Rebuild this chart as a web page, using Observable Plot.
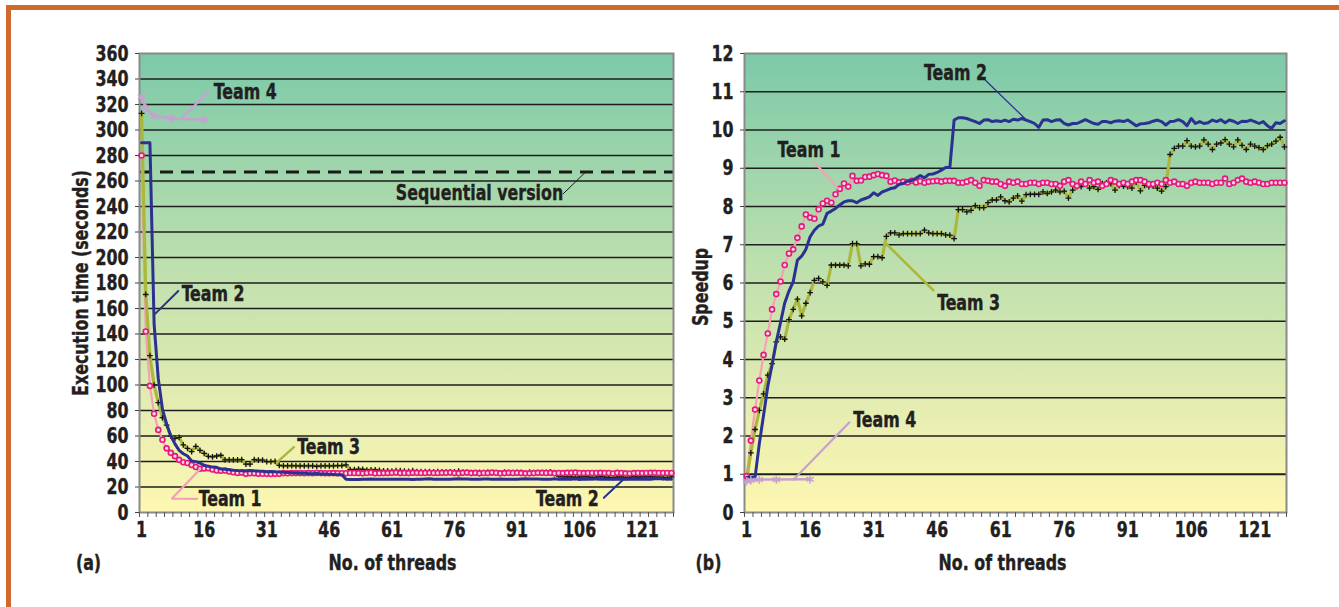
<!DOCTYPE html>
<html><head><meta charset="utf-8">
<script src="https://cdn.jsdelivr.net/npm/d3@7"></script>
<script src="https://cdn.jsdelivr.net/npm/@observablehq/plot@0.6"></script>
<style>
html,body{margin:0;padding:0;background:#fff;}
#wrap{position:relative;width:1339px;height:607px;overflow:hidden;background:#fff;}
#frameTop{position:absolute;left:6px;top:5px;width:1333px;height:5px;background:#d0692e;}
#frameLeft{position:absolute;left:6px;top:5px;width:5px;height:602px;background:#d0692e;}
#pa{position:absolute;left:0;top:0;}
#pb{position:absolute;left:690px;top:0;}
#wrap svg text{stroke:#231f20;stroke-width:0.4px;}
</style></head><body>
<div id="wrap"><div id="frameTop"></div><div id="frameLeft"></div><div id="pa"></div><div id="pb"></div></div>
<script>
// ---------- data ----------
const threads = Array.from({length: 128}, (_, k) => k + 1);
const xTickLabels = [1, 16, 31, 46, 61, 76, 91, 106, 121];
const timeTicks = [0,20,40,60,80,100,120,140,160,180,200,220,240,260,280,300,320,340,360];
const speedupTicks = [0,1,2,3,4,5,6,7,8,9,10,11,12];
const sequentialTime = 267;
const team4Threads = [1, 2, 4, 8, 16];
const team4Time = [326, 317, 311, 309, 308];
const team4Speedup = [0.82, 0.84, 0.86, 0.86, 0.87];

const timeTeam1 = [
280,142,99.3,77.4,64.8,57.1,50.3,46.8,44.2,41.3,
39.4,38.8,37.2,35.7,34.3,34.6,34.8,33.7,33.0,32.8,
33.0,32.1,31.6,31.0,31.3,30.3,30.8,30.8,30.4,30.4,
30.3,30.2,30.3,30.3,30.9,30.8,30.9,30.9,30.9,30.8,
30.9,30.8,31.0,30.9,30.8,30.8,30.9,30.8,30.8,30.8,
31.0,31.0,30.9,30.7,31.0,31.3,30.7,30.8,30.9,30.9,
31.1,31.3,30.9,31.0,30.9,31.1,31.1,31.0,31.0,31.1,
31.0,31.0,31.1,31.1,31.3,30.9,30.7,31.1,31.3,30.9,
31.1,30.7,31.0,30.9,31.3,31.1,30.7,30.9,31.1,31.0,
31.1,30.9,30.7,30.7,30.9,31.1,31.1,31.0,31.1,30.7,
31.0,30.9,31.1,31.1,31.3,31.0,30.9,31.0,31.0,31.0,
31.1,31.0,31.0,30.6,31.1,31.0,30.7,30.6,30.9,31.0,
30.9,31.0,31.1,31.1,31.0,31.0,31.0,31.0];
const timeTeam2 = [
290,290,290,148,105,81.0,69.4,59.9,53.8,48.7,
46.1,44.3,40.5,39.9,38.8,37.0,36.2,35.6,35.4,34.1,
33.9,33.6,33.2,32.9,32.8,32.8,33.0,32.7,32.5,32.4,
31.9,32.2,31.9,31.7,31.5,31.4,31.1,31.0,30.8,30.8,
30.5,30.3,30.5,30.2,30.2,30.0,29.8,29.6,29.6,26.0,
25.9,25.9,25.9,26.0,26.1,26.3,26.0,26.0,26.1,26.1,
26.1,26.0,26.1,26.0,26.0,25.9,26.0,26.1,26.3,26.5,
26.0,26.0,26.1,26.0,26.0,26.3,26.4,26.3,26.3,26.1,
26.0,26.1,26.3,26.3,26.1,26.1,26.2,26.1,26.1,26.1,
26.0,26.2,26.4,26.3,26.3,26.2,26.1,26.0,26.1,26.4,
26.1,26.1,26.0,26.1,26.4,25.9,26.3,26.1,26.3,26.2,
26.0,26.1,26.0,26.2,26.0,26.1,26.3,26.1,26.1,26.0,
26.1,26.3,26.1,26.4,26.6,26.2,26.3,26.1];
const timeTeam3 = [
313,171,123,100,86.1,74.4,68.6,59.9,58.2,58.9,
53.0,50.3,47.8,51.9,48.8,46.4,44.0,43.6,44.3,44.9,
41.3,41.3,41.3,41.3,41.4,38.0,38.0,41.4,41.1,41.1,
39.9,39.9,40.1,37.0,36.5,36.5,36.8,36.6,36.6,36.6,
36.6,36.6,36.2,36.5,36.6,36.6,36.6,36.8,36.8,37.3,
33.7,33.7,34.0,33.8,33.3,33.5,33.5,33.0,32.7,32.7,
32.4,32.8,32.9,32.5,32.2,32.8,32.1,32.1,32.1,32.1,
31.9,32.0,31.9,31.7,31.9,31.8,32.5,31.7,31.3,31.3,
31.1,31.5,31.3,31.6,31.0,31.0,31.0,31.7,31.2,31.3,
31.3,31.5,30.9,31.7,31.2,31.3,31.3,31.5,31.8,31.3,
28.5,28.0,27.9,27.9,27.5,27.9,27.9,27.9,27.4,27.7,
28.1,27.7,27.6,27.4,27.7,27.9,27.4,27.8,28.1,27.7,
27.9,28.0,28.1,27.8,27.7,27.5,27.2,27.9];

const speedupTeam1 = [
0.95,1.88,2.69,3.45,4.12,4.68,5.31,5.71,6.04,6.47,
6.77,6.88,7.18,7.48,7.79,7.71,7.68,7.93,8.08,8.15,
8.10,8.32,8.46,8.60,8.52,8.80,8.67,8.68,8.77,8.78,
8.82,8.85,8.82,8.80,8.65,8.68,8.63,8.65,8.63,8.67,
8.63,8.66,8.62,8.65,8.66,8.67,8.65,8.67,8.67,8.67,
8.62,8.62,8.65,8.69,8.62,8.54,8.69,8.67,8.65,8.65,
8.59,8.54,8.65,8.62,8.65,8.59,8.59,8.62,8.62,8.59,
8.62,8.62,8.59,8.59,8.54,8.65,8.69,8.59,8.54,8.65,
8.59,8.69,8.62,8.65,8.54,8.59,8.69,8.65,8.59,8.62,
8.59,8.65,8.69,8.69,8.65,8.59,8.59,8.62,8.59,8.69,
8.62,8.65,8.59,8.59,8.54,8.62,8.65,8.62,8.62,8.62,
8.59,8.62,8.62,8.73,8.59,8.62,8.69,8.73,8.65,8.62,
8.65,8.62,8.59,8.59,8.62,8.62,8.62,8.62];
const speedupTeam2 = [
0.92,0.92,0.92,1.80,2.54,3.30,3.85,4.46,4.96,5.48,
5.79,6.03,6.60,6.70,6.88,7.21,7.38,7.49,7.54,7.82,
7.88,7.95,8.04,8.12,8.15,8.15,8.10,8.17,8.21,8.25,
8.36,8.29,8.38,8.42,8.47,8.49,8.58,8.60,8.66,8.68,
8.74,8.81,8.75,8.84,8.85,8.89,8.95,9.02,9.02,10.26,
10.32,10.32,10.30,10.26,10.22,10.17,10.26,10.27,10.22,10.24,
10.22,10.26,10.22,10.28,10.26,10.30,10.26,10.22,10.17,10.07,
10.26,10.27,10.22,10.26,10.27,10.17,10.13,10.17,10.17,10.22,
10.27,10.22,10.17,10.15,10.22,10.22,10.19,10.23,10.24,10.22,
10.26,10.19,10.11,10.16,10.17,10.19,10.23,10.26,10.22,10.13,
10.22,10.23,10.27,10.22,10.11,10.30,10.17,10.22,10.17,10.19,
10.26,10.22,10.27,10.19,10.26,10.23,10.17,10.23,10.22,10.26,
10.22,10.17,10.22,10.11,10.04,10.19,10.17,10.24];
const speedupTeam3 = [
0.85,1.56,2.17,2.67,3.10,3.59,3.89,4.46,4.59,4.53,
5.04,5.31,5.58,5.14,5.47,5.75,6.07,6.12,6.03,5.94,
6.47,6.47,6.47,6.47,6.45,7.03,7.03,6.45,6.50,6.49,
6.69,6.69,6.66,7.22,7.31,7.31,7.26,7.29,7.29,7.29,
7.29,7.29,7.38,7.31,7.29,7.29,7.29,7.26,7.25,7.16,
7.92,7.92,7.86,7.90,8.02,7.97,7.97,8.10,8.17,8.17,
8.25,8.15,8.12,8.22,8.28,8.14,8.31,8.32,8.32,8.32,
8.38,8.34,8.38,8.43,8.38,8.40,8.22,8.43,8.52,8.52,
8.59,8.48,8.52,8.45,8.60,8.62,8.60,8.43,8.55,8.53,
8.52,8.48,8.64,8.41,8.55,8.52,8.53,8.48,8.40,8.52,
9.36,9.52,9.58,9.58,9.72,9.58,9.56,9.58,9.74,9.63,
9.49,9.63,9.66,9.75,9.63,9.56,9.74,9.60,9.49,9.63,
9.58,9.54,9.49,9.59,9.63,9.71,9.81,9.56];

// ---------- style ----------
const FONT = '"Liberation Sans Narrow","DejaVu Sans Condensed","Roboto Condensed",Roboto,sans-serif';
const COL = {t1line:"#f3a2b5", t1dot:"#e5197d", t1fill:"#fbd6e2", t2:"#2b3191", t3:"#abb73f", t3dot:"#141414",
             t4:"#c6a2d0", grid:"#1e1e1e", frame:"#8a8a8a", text:"#231f20"};
const minorTicks = d3.range(0.5, 129, 2);
const FS = 22;

function gradientDefs(id) {
  return () => {
    const defs = d3.create("svg:defs");
    const lg = defs.append("linearGradient").attr("id", id)
      .attr("x1", 0).attr("y1", 0).attr("x2", 0).attr("y2", 1);
    [[0, "#7cc9a9"], [0.45, "#bcdfae"], [0.8, "#e9eeb2"], [1, "#fdf7b1"]]
      .forEach(([o, c]) => lg.append("stop").attr("offset", o).attr("stop-color", c));
    return defs.node();
  };
}
const rows = (ys, xs = threads) => xs.map((t, k) => ({t, v: ys[k]}));
const tx = {fontSize: FS, fontWeight: "bold", fill: COL.text};

function seriesMarks(d1, d2, d3_, d4) {
  return [
    Plot.line(d1, {x: "t", y: "v", stroke: COL.t1line, strokeWidth: 2.2}),
    Plot.line(d3_, {x: "t", y: "v", stroke: COL.t3, strokeWidth: 3.2}),
    Plot.dot(d3_, {x: "t", y: "v", symbol: "plus", r: 2.0, stroke: COL.t3dot, strokeWidth: 1.3}),
    Plot.dot(d1, {x: "t", y: "v", r: 2.5, stroke: COL.t1dot, strokeWidth: 1.6, fill: COL.t1fill}),
    Plot.line(d2, {x: "t", y: "v", stroke: COL.t2, strokeWidth: 3}),
    Plot.line(d4, {x: "t", y: "v", stroke: COL.t4, strokeWidth: 2.5}),
    Plot.dot(d4, {x: "t", y: "v", symbol: "asterisk", r: 4, stroke: COL.t4, strokeWidth: 1.6})
  ];
}
function leader(points, color, w = 2) {
  return Plot.line(points, {x: d => d[0], y: d => d[1], stroke: color, strokeWidth: w});
}
function label(x, y, s, anchor = "start") {
  return Plot.text([s], {x: () => x, y: () => y, text: d => d, textAnchor: anchor, ...tx});
}
function axes(yTicks) {
  return [
    Plot.axisY(yTicks, {tickSize: 4, tickPadding: 7, label: null, stroke: "#444", ...tx}),
    Plot.axisX(minorTicks, {tickSize: 5, tickFormat: () => "", label: null, stroke: "#555"}),
    Plot.axisX(xTickLabels, {tickSize: 0, tickPadding: 9, label: null, ...tx})
  ];
}
const styleObj = {fontFamily: FONT, fontWeight: "bold", fontSize: FS + "px", color: COL.text, background: "transparent", overflow: "visible"};
const bottomText = (s, dx) => Plot.text([s], {frameAnchor: "bottom", dx, dy: 50, lineAnchor: "middle", text: d => d, textAnchor: "middle", ...tx});

// narrow the glyphs to imitate the condensed face of the original
function condense(svg, k) {
  svg.querySelectorAll("text").forEach(t => {
    if (!t.textContent.trim()) return;
    const w = t.getComputedTextLength();
    t.setAttribute("textLength", (w * k).toFixed(1));
    t.setAttribute("lengthAdjust", "spacingAndGlyphs");
  });
}

// ---------- panel (a) ----------
const pa = Plot.plot({
  width: 690, height: 600, marginLeft: 139, marginRight: 17, marginTop: 53, marginBottom: 88,
  style: styleObj,
  x: {domain: [0.5, 128.5]},
  y: {domain: [0, 360]},
  marks: [
    gradientDefs("gradA"),
    Plot.frame({fill: "url(#gradA)", stroke: null}),
    Plot.ruleY(timeTicks.filter(d => d > 0 && d < 360), {stroke: COL.grid, strokeWidth: 1.5}),
    Plot.ruleY([sequentialTime], {stroke: "#1a1a1a", strokeWidth: 3, strokeDasharray: "13,8"}),
    Plot.frame({stroke: COL.frame, strokeWidth: 2}),
    ...axes(timeTicks),
    ...seriesMarks(rows(timeTeam1), rows(timeTeam2), rows(timeTeam3), rows(team4Time, team4Threads)),
    leader([[10.7, 309.8], [17.1, 329.9]], COL.t4, 2.2),
    label(18.3, 329.6, "Team 4"),
    leader([[102.1, 250.1], [107.2, 266.3]], "#1a1a1a", 1),
    label(82.0, 250.6, "Sequential version", "middle"),
    leader([[4.3, 156], [9.8, 173.7]], COL.t2, 2),
    label(10.6, 171.6, "Team 2"),
    leader([[33.5, 39.5], [37.5, 51.3]], COL.t3, 2.5),
    label(38.3, 51.3, "Team 3"),
    leader([[14.3, 10.7], [8.3, 10.9], [15.1, 34.3]], COL.t1line, 2.2),
    label(14.7, 10.7, "Team 1"),
    leader([[111.8, 11.5], [116.4, 25.7]], COL.t2, 2),
    label(110.6, 10.7, "Team 2", "end"),
    Plot.text(["Execution time (seconds)"], {frameAnchor: "left", dx: -59, rotate: -90, text: d => d, textAnchor: "middle", ...tx}),
    bottomText("No. of threads", -14),
    Plot.text(["(a)"], {frameAnchor: "bottom-left", dx: -51, dy: 50, lineAnchor: "middle", text: d => d, textAnchor: "middle", ...tx})
  ]
});
document.getElementById("pa").append(pa);

// ---------- panel (b) ----------
const pb = Plot.plot({
  width: 649, height: 600, marginLeft: 54, marginRight: 53, marginTop: 53, marginBottom: 88,
  style: styleObj,
  x: {domain: [0.5, 128.5]},
  y: {domain: [0, 12]},
  marks: [
    gradientDefs("gradB"),
    Plot.frame({fill: "url(#gradB)", stroke: null}),
    Plot.ruleY(speedupTicks.filter(d => d > 0 && d < 12), {stroke: COL.grid, strokeWidth: d => d === 1 ? 2.2 : 1.5}),
    Plot.frame({stroke: COL.frame, strokeWidth: 2}),
    ...axes(speedupTicks),
    ...seriesMarks(rows(speedupTeam1), rows(speedupTeam2), rows(speedupTeam3), rows(team4Speedup, team4Threads)),
    leader([[57.4, 11.3], [66.9, 10.28]], COL.t2, 1.2),
    label(42.9, 11.48, "Team 2"),
    leader([[16.9, 9.17], [22.7, 8.46]], COL.t1line, 2.2),
    label(8.3, 9.49, "Team 1"),
    leader([[34.0, 7.02], [45.1, 5.81]], COL.t3, 2.5),
    label(46.0, 5.48, "Team 3"),
    leader([[12.1, 0.86], [25.3, 2.36]], COL.t4, 2.2),
    label(26.2, 2.41, "Team 4"),
    Plot.text(["Speedup"], {frameAnchor: "left", dx: -44, dy: 4, rotate: -90, text: d => d, textAnchor: "middle", ...tx}),
    bottomText("No. of threads", -13),
    Plot.text(["(b)"], {frameAnchor: "bottom-left", dx: -36, dy: 50, lineAnchor: "middle", text: d => d, textAnchor: "middle", ...tx})
  ]
});
document.getElementById("pb").append(pb);

condense(pa, 0.8);
condense(pb, 0.8);
</script>
</body></html>
